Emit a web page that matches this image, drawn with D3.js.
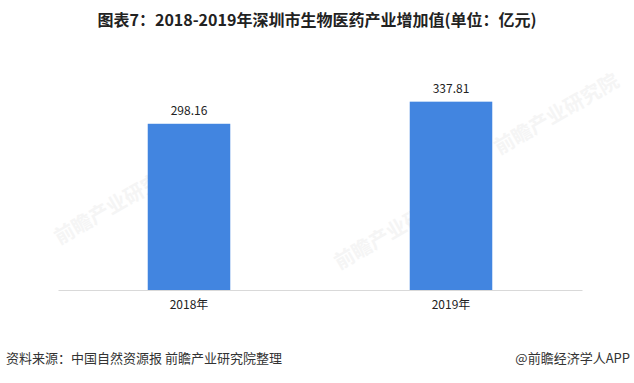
<!DOCTYPE html>
<html lang="zh">
<head>
<meta charset="UTF-8">
<title>深圳市生物医药产业增加值</title>
<script src="https://d3js.org/d3.v7.min.js"></script>
<style>
    body { margin: 0; background: #ffffff; }
    svg { display: block; font-family: "Noto Sans CJK SC", "Microsoft YaHei", sans-serif; }
</style>
</head>
<body>
<div id="chart"></div>
<script>
const years = ["2018年", "2019年"];
const values = [298.16, 337.81];
const valueLabels = ["298.16", "337.81"];

const width = 634, height = 383;
const margin = { top: 67, right: 52, bottom: 93, left: 58 };

const svg = d3.select("#chart").append("svg")
    .attr("width", width)
    .attr("height", height);

// faint watermarks
const marks = [[120, 210], [400, 235], [560, 120]];
svg.append("g").selectAll("text")
    .data(marks)
    .enter().append("text")
    .attr("transform", d => `translate(${d[0]},${d[1]}) rotate(-30)`)
    .attr("text-anchor", "middle")
    .attr("font-size", 20)
    .attr("font-weight", "bold")
    .attr("fill", "#f5f5f5")
    .text("前瞻产业研究院");

// title
svg.append("text")
    .attr("x", width / 2)
    .attr("y", 26)
    .attr("text-anchor", "middle")
    .attr("font-size", 16)
    .attr("font-weight", "bold")
    .attr("fill", "#222")
    .text("图表7：2018-2019年深圳市生物医药产业增加值(单位：亿元)");

const x = d3.scaleBand()
    .domain(years)
    .range([margin.left, width - margin.right])
    .paddingInner(0.685)
    .paddingOuter(0.3425);

const y = d3.scaleLinear()
    .domain([0, 400])
    .range([height - margin.bottom, margin.top]);

// bars
svg.append("g").selectAll("rect")
    .data(values)
    .enter().append("rect")
    .attr("x", (d, i) => x(years[i]))
    .attr("y", d => y(d))
    .attr("width", x.bandwidth())
    .attr("height", d => y(0) - y(d))
    .attr("fill", "#4285e0");

// value labels
svg.append("g").selectAll("text")
    .data(values)
    .enter().append("text")
    .attr("x", (d, i) => x(years[i]) + x.bandwidth() / 2)
    .attr("y", d => y(d) - 9)
    .attr("text-anchor", "middle")
    .attr("font-size", 12)
    .attr("fill", "#222")
    .text((d, i) => valueLabels[i]);

// x axis
const xAxis = svg.append("g")
    .attr("transform", `translate(0,${y(0)})`)
    .call(d3.axisBottom(x).tickSize(0).tickPadding(10));
xAxis.select(".domain").attr("stroke", "#d9d9d9").attr("stroke-width", 1);
xAxis.selectAll("text")
    .attr("font-size", 12)
    .attr("fill", "#222")
    .style("font-family", "\"Noto Sans CJK SC\", sans-serif");

// footer
svg.append("text")
    .attr("x", 6)
    .attr("y", 363)
    .attr("font-size", 13)
    .attr("fill", "#333")
    .text("资料来源：中国自然资源报 前瞻产业研究院整理");

svg.append("text")
    .attr("x", 630)
    .attr("y", 363)
    .attr("text-anchor", "end")
    .attr("font-size", 13)
    .attr("fill", "#333")
    .text("@前瞻经济学人APP");
</script>
</body>
</html>
